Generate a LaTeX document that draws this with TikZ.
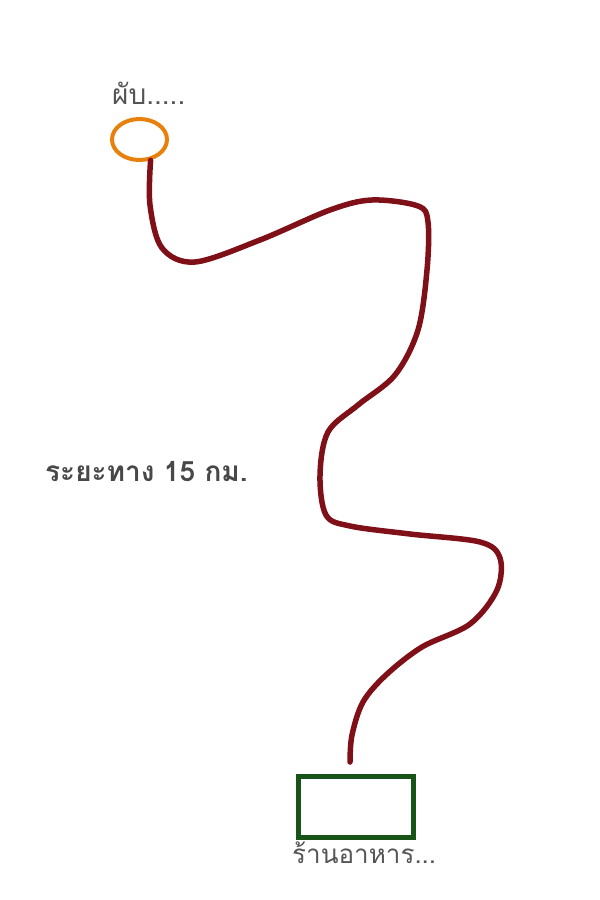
\documentclass[tikz,border=0pt]{standalone}
\usepackage{fontspec}
\usetikzlibrary{shapes.geometric}
\newfontfamily\thaifont[Script=Thai]{Loma}
\definecolor{routered}{RGB}{128,16,24}
\definecolor{puborange}{RGB}{232,128,12}
\definecolor{shopgreen}{RGB}{24,84,24}
\definecolor{labelgray}{RGB}{85,85,85}

\begin{document}
\begin{tikzpicture}[x=1pt, y=-1pt,
    place/.style={font=\thaifont\fontsize{26}{30}\selectfont, text=labelgray},
    route/.style={draw=routered, line width=5.5pt, line cap=round, line join=round}]
      \useasboundingbox (0, 0) rectangle (600, 900);
      % start and end
      \node[ellipse, draw=puborange, line width=4pt, minimum width=55pt, minimum height=41pt, inner sep=0pt] (pub) at (139.5, 139.5) {};
      \node[rectangle, draw=shopgreen, line width=5pt, minimum width=115pt, minimum height=61pt, inner sep=0pt] (shop) at (356, 807) {};
      \node[place, font=\thaifont\fontsize{28}{30}\selectfont, anchor=south west, inner sep=0pt] (publabel) at (112, 105) {ผับ.....};
      \node[place, anchor=north west, inner sep=0pt] (shoplabel) at (292, 842) {ร้านอาหาร...};
      \node[font=\thaifont\bfseries\fontsize{28}{32}\selectfont, text=labelgray!85!black, anchor=west, inner sep=0pt] (dist) at (45, 472) {ระยะทาง 15 กม.};
      \coordinate (end) at (350, 762);
      % road
      \draw[route] plot[smooth, tension=0.55] coordinates {(pub.-62) (150, 205) (162, 248) (195, 262) (260, 240) (330, 210) (372, 200) (418, 206) (428, 222) (427, 270) (418, 330) (395, 375) (358, 405) (328, 432) (320, 475) (326, 515) (350, 526) (410, 534) (480, 542) (500, 558) (497, 590) (470, 624) (422, 647) (386, 675) (363, 702) (352, 735) (end)};
    \end{tikzpicture}
\end{document}
